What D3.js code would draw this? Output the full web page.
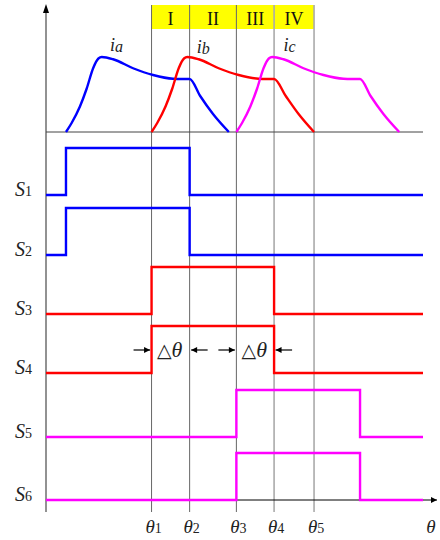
<!DOCTYPE html>
<html><head><meta charset="utf-8">
<script src="https://cdn.jsdelivr.net/npm/d3@7"></script>
<style>body{margin:0;background:#fff}svg{display:block}</style>
</head><body>
<script>
// ---- data ----
const thetaSubs = ["1","2","3","4","5"];
const thetaValues = [28.0, 38.1, 50.5, 60.5, 71.1];
const regionLabels = ["I","II","III","IV"];
const currentNames = ["a","b","c"];
const ia = [[5.3,0],[6.8,0.12],[9.0,0.34],[10.8,0.58],[12.5,0.85],[13.9,0.98],[14.8,1.0],[17.8,0.97],[23.1,0.85],[28.4,0.76],[33.7,0.71],[35.8,0.707],[38.1,0.707],[40.9,0.48],[44.3,0.24],[48.5,0]];
const ib = [[28.0,0],[29.5,0.12],[31.7,0.34],[33.5,0.58],[35.2,0.85],[36.6,0.98],[37.5,1.0],[40.5,0.97],[45.8,0.85],[51.1,0.76],[56.4,0.71],[58.5,0.707],[60.5,0.707],[63.6,0.48],[67.0,0.24],[71.1,0]];
const ic = [[50.5,0],[52.0,0.12],[54.2,0.34],[56.0,0.58],[57.7,0.85],[59.1,0.98],[60.0,1.0],[63.0,0.97],[68.3,0.85],[73.6,0.76],[78.9,0.71],[81.0,0.707],[83.3,0.707],[86.1,0.48],[89.5,0.24],[93.7,0]];
const currentLabelAt = [[17.0,1.08],[40.0,1.06],[63.0,1.08]];
const signalNames = ["1","2","3","4","5","6"];
const signalOn = [[5.3,38.1],[5.3,38.1],[28.0,60.5],[28.0,60.5],[50.5,83.3],[50.5,83.3]];
const deltaSpans = [[0,1],[2,3]]; // indices into thetaValues

// ---- layout ----
const W = 440, H = 540;
const colors = ["#0000ff","#ff0000","#ff00ff"];
const sigColors = ["#0000ff","#0000ff","#ff0000","#ff0000","#ff00ff","#ff00ff"];
const rowLow = [195,255,314,373,437,500];
const amp = 47;

const svg = d3.select("body").append("svg").attr("width",W).attr("height",H);
const defs = svg.append("defs");
defs.append("marker").attr("id","ah").attr("viewBox","0 0 10 10").attr("refX",10).attr("refY",5)
  .attr("markerWidth",7).attr("markerHeight",6).attr("markerUnits","userSpaceOnUse").attr("orient","auto")
  .append("path").attr("d","M0,0L10,5L0,10Z").attr("fill","#000");

const x = d3.scaleLinear().domain([0,100]).range([46,423]);
const yI = d3.scaleLinear().domain([0,1]).range([132,57]);

// yellow band
svg.selectAll("rect.band").data(regionLabels).join("rect")
  .attr("x",(d,i)=>x(thetaValues[i])).attr("width",(d,i)=>x(thetaValues[i+1])-x(thetaValues[i]))
  .attr("y",5).attr("height",24).attr("fill","#ffff00");
svg.selectAll("text.reg").data(regionLabels).join("text")
  .attr("x",(d,i)=>(x(thetaValues[i])+x(thetaValues[i+1]))/2).attr("y",25)
  .attr("text-anchor","middle").attr("font-family","Liberation Serif").attr("font-size",18)
  .attr("fill","#111").text(d=>d);

// gridlines
svg.selectAll("line.grid").data(thetaValues).join("line")
  .attr("x1",d=>x(d)).attr("x2",d=>x(d)).attr("y1",5).attr("y2",512)
  .attr("stroke",(d,i)=>i<3?"#666":"#aaa").attr("stroke-width",(d,i)=>i<3?1:1.6);

// axes
svg.append("line").attr("x1",46).attr("x2",46).attr("y1",12).attr("y2",512).attr("stroke","#777").attr("stroke-width",1.6);
svg.append("path").attr("d","M46,4L49,13L43,13Z").attr("fill","#000");
svg.append("line").attr("x1",46).attr("x2",423).attr("y1",132).attr("y2",132).attr("stroke","#444").attr("stroke-width",1);
svg.append("line").attr("x1",46).attr("x2",437).attr("y1",500).attr("y2",500).attr("stroke","#000").attr("stroke-width",1).attr("marker-end","url(#ah)");

// currents
const lineI = d3.line().x(d=>x(d[0])).y(d=>yI(d[1])).curve(d3.curveMonotoneX);
[ia,ib,ic].forEach((s,k)=>{
  svg.append("path").attr("d",lineI(s)).attr("fill","none").attr("stroke",colors[k]).attr("stroke-width",2.4);
});
currentNames.forEach((n,k)=>{
  const t = svg.append("text").attr("x",x(currentLabelAt[k][0])).attr("y",yI(currentLabelAt[k][1]))
    .attr("font-family","Liberation Serif").attr("font-style","italic").attr("font-size",18).attr("fill","#222");
  t.append("tspan").text("i");
  t.append("tspan").attr("font-size",16).attr("dy",1).text(n);
});

// switching signals
signalNames.forEach((n,k)=>{
  const yS = d3.scaleLinear().domain([0,1]).range([rowLow[k], rowLow[k]-amp]);
  const [a,b] = signalOn[k];
  const pts = [[0,0],[a,0],[a,1],[b,1],[b,0],[100,0]];
  svg.append("path").attr("d",d3.line().x(d=>x(d[0])).y(d=>yS(d[1]))(pts))
    .attr("fill","none").attr("stroke",sigColors[k]).attr("stroke-width",2.4);
  const t = svg.append("text").attr("x",15).attr("y",rowLow[k]+1)
    .attr("font-family","Liberation Serif").attr("font-size",20).attr("fill","#222");
  t.append("tspan").attr("font-style","italic").text("S");
  t.append("tspan").attr("font-size",14).text(n);
});

// delta theta annotations
deltaSpans.forEach(([i0,i1])=>{
  const x0 = x(thetaValues[i0]), x1 = x(thetaValues[i1]);
  const yA = 350;
  svg.append("line").attr("x1",x0-18).attr("x2",x0-1.5).attr("y1",yA).attr("y2",yA)
    .attr("stroke","#000").attr("stroke-width",1.2).attr("marker-end","url(#ah)");
  svg.append("line").attr("x1",x1+18).attr("x2",x1+1.5).attr("y1",yA).attr("y2",yA)
    .attr("stroke","#000").attr("stroke-width",1.2).attr("marker-end","url(#ah)");
  const t = svg.append("text").attr("x",(x0+x1)/2-1).attr("y",357).attr("text-anchor","middle")
    .attr("font-family","Liberation Serif").attr("font-size",22).attr("fill","#222");
  t.append("tspan").attr("font-family","DejaVu Sans").attr("font-size",19).text("△");
  t.append("tspan").attr("font-style","italic").text("θ");
});

// theta tick labels
thetaValues.forEach((v,i)=>{
  const t = svg.append("text").attr("x",x(v)+2).attr("y",533).attr("text-anchor","middle")
    .attr("font-family","Liberation Serif").attr("font-size",19).attr("fill","#222");
  t.append("tspan").attr("font-style","italic").text("θ");
  t.append("tspan").attr("font-size",14).text(thetaSubs[i]);
});
svg.append("text").attr("x",431).attr("y",533).attr("text-anchor","middle")
  .attr("font-family","Liberation Serif").attr("font-style","italic").attr("font-size",19).attr("fill","#222").text("θ");
</script>
</body></html>
